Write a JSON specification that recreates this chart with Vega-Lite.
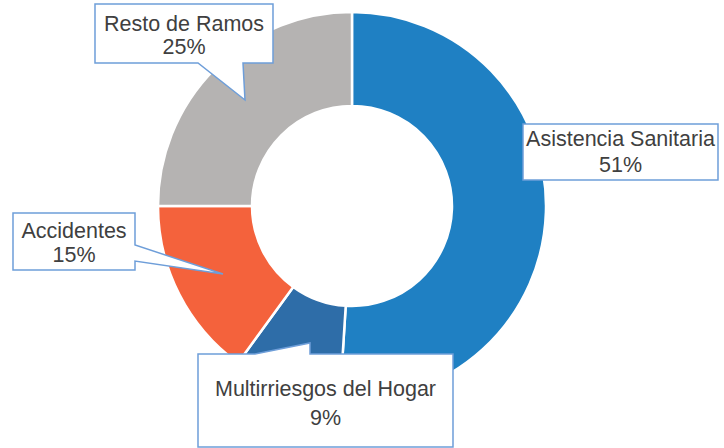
{
  "$schema": "https://vega.github.io/schema/vega-lite/v6.json",
  "width": 724,
  "height": 448,
  "autosize": {"type": "none"},
  "padding": 0,
  "background": "white",
  "config": {"view": {"stroke": null}},
  "data": {
    "values": [
      {"category": "Asistencia Sanitaria", "share": 0.51},
      {"category": "Multirriesgos del Hogar", "share": 0.09},
      {"category": "Accidentes", "share": 0.15},
      {"category": "Resto de Ramos", "share": 0.25}
    ]
  },
  "layer": [
    {
      "mark": {"type": "arc", "outerRadius": 194, "innerRadius": 100, "stroke": "white", "strokeWidth": 2.5},
      "encoding": {
        "x": {"datum": 0, "type": "quantitative", "scale": {"domain": [-1.814433, 1.917526], "nice": false, "zero": false}, "axis": null},
        "y": {"datum": 0, "type": "quantitative", "scale": {"domain": [-1.247423, 1.061856], "nice": false, "zero": false}, "axis": null},
        "theta": {"field": "share", "type": "quantitative", "stack": true, "scale": {"domain": [0, 1], "range": [-3.07876, 3.20442]}},
        "order": {"field": "share", "type": "quantitative", "sort": "ascending"},
        "color": {
          "field": "category", "type": "nominal", "legend": null,
          "scale": {
            "domain": ["Asistencia Sanitaria", "Multirriesgos del Hogar", "Accidentes", "Resto de Ramos"],
            "range": ["#1F80C3", "#2E6DA8", "#F4623C", "#B5B3B2"]
          }
        }
      }
    },
    {
      "transform": [{"filter": "datum.category === 'Resto de Ramos'"}],
      "encoding": {
        "x": {"datum": -0.8660, "type": "quantitative", "scale": {"domain": [-1.814433, 1.917526], "nice": false, "zero": false}, "axis": null},
        "y": {"datum": 0.87629, "type": "quantitative", "scale": {"domain": [-1.247423, 1.061856], "nice": false, "zero": false}, "axis": null}
      },
      "layer": [
        {"mark": {"type": "point", "shape": "M-89,-32H89V27H59L61,64L14,27H-89Z", "size": 4, "filled": true, "fill": "white", "stroke": "#6E9ED9", "strokeWidth": 1.5, "opacity": 1}},
        {"mark": {"type": "text", "dy": -11, "align": "center", "baseline": "middle", "font": "Liberation Sans", "fontSize": 21.5, "fill": "#404040"}, "encoding": {"text": {"field": "category", "type": "nominal"}}},
        {"mark": {"type": "text", "dy": 12.5, "align": "center", "baseline": "middle", "font": "Liberation Sans", "fontSize": 21.5, "fill": "#404040"}, "encoding": {"text": {"field": "share", "type": "quantitative", "format": ".0%"}}}
      ]
    },
    {
      "transform": [{"filter": "datum.category === 'Asistencia Sanitaria'"}],
      "encoding": {
        "x": {"datum": 1.38402, "type": "quantitative", "scale": {"domain": [-1.814433, 1.917526], "nice": false, "zero": false}, "axis": null},
        "y": {"datum": 0.27835, "type": "quantitative", "scale": {"domain": [-1.247423, 1.061856], "nice": false, "zero": false}, "axis": null}
      },
      "layer": [
        {"mark": {"type": "point", "shape": "M-97.5,-28H97.5V28H-97.5Z", "size": 4, "filled": true, "fill": "white", "stroke": "#6E9ED9", "strokeWidth": 1.5, "opacity": 1}},
        {"mark": {"type": "text", "dy": -12, "align": "center", "baseline": "middle", "font": "Liberation Sans", "fontSize": 21.5, "fill": "#404040"}, "encoding": {"text": {"field": "category", "type": "nominal"}}},
        {"mark": {"type": "text", "dy": 14, "align": "center", "baseline": "middle", "font": "Liberation Sans", "fontSize": 21.5, "fill": "#404040"}, "encoding": {"text": {"field": "share", "type": "quantitative", "format": ".0%"}}}
      ]
    },
    {
      "transform": [{"filter": "datum.category === 'Accidentes'"}],
      "encoding": {
        "x": {"datum": -1.43299, "type": "quantitative", "scale": {"domain": [-1.814433, 1.917526], "nice": false, "zero": false}, "axis": null},
        "y": {"datum": -0.19072, "type": "quantitative", "scale": {"domain": [-1.247423, 1.061856], "nice": false, "zero": false}, "axis": null}
      },
      "layer": [
        {"mark": {"type": "point", "shape": "M-61,-30H61V2L149,31L61,18V27H-61Z", "size": 4, "filled": true, "fill": "white", "stroke": "#6E9ED9", "strokeWidth": 1.5, "opacity": 1}},
        {"mark": {"type": "text", "dy": -10.5, "align": "center", "baseline": "middle", "font": "Liberation Sans", "fontSize": 21.5, "fill": "#404040"}, "encoding": {"text": {"field": "category", "type": "nominal"}}},
        {"mark": {"type": "text", "dy": 13, "align": "center", "baseline": "middle", "font": "Liberation Sans", "fontSize": 21.5, "fill": "#404040"}, "encoding": {"text": {"field": "share", "type": "quantitative", "format": ".0%"}}}
      ]
    },
    {
      "transform": [{"filter": "datum.category === 'Multirriesgos del Hogar'"}],
      "encoding": {
        "x": {"datum": -0.13660, "type": "quantitative", "scale": {"domain": [-1.814433, 1.917526], "nice": false, "zero": false}, "axis": null},
        "y": {"datum": -1.01546, "type": "quantitative", "scale": {"domain": [-1.247423, 1.061856], "nice": false, "zero": false}, "axis": null}
      },
      "layer": [
        {"mark": {"type": "point", "shape": "M-127.5,-49H-70.5L-15.5,-60V-49H127.5V44H-127.5Z", "size": 4, "filled": true, "fill": "white", "stroke": "#6E9ED9", "strokeWidth": 1.5, "opacity": 1}},
        {"mark": {"type": "text", "dy": -13, "align": "center", "baseline": "middle", "font": "Liberation Sans", "fontSize": 21.5, "fill": "#404040"}, "encoding": {"text": {"field": "category", "type": "nominal"}}},
        {"mark": {"type": "text", "dy": 16, "align": "center", "baseline": "middle", "font": "Liberation Sans", "fontSize": 21.5, "fill": "#404040"}, "encoding": {"text": {"field": "share", "type": "quantitative", "format": ".0%"}}}
      ]
    }
  ]
}
